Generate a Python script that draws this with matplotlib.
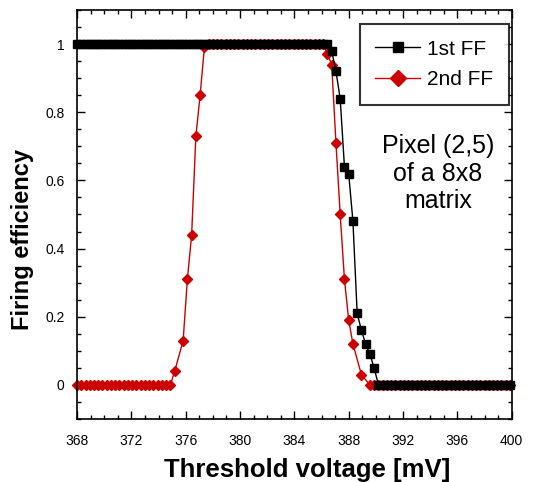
import matplotlib
matplotlib.use('Agg')
import matplotlib.pyplot as plt
from matplotlib.ticker import MultipleLocator, FixedLocator

plt.rcParams['font.family'] = ['Liberation Sans', 'DejaVu Sans']

# threshold voltage scan points [mV]
volt_1st = [
    368.0, 368.3125, 368.625, 368.9375, 369.25, 369.5625, 369.875, 370.1875, 370.5, 370.8125,
    371.125, 371.4375, 371.75, 372.0625, 372.375, 372.6875, 373.0, 373.3125, 373.625, 373.9375,
    374.25, 374.5625, 374.875, 375.1875, 375.5, 375.8125, 376.125, 376.4375, 376.75, 377.0625,
    377.375, 377.6875, 378.0, 378.3125, 378.625, 378.9375, 379.25, 379.5625, 379.875, 380.1875,
    380.5, 380.8125, 381.125, 381.4375, 381.75, 382.0625, 382.375, 382.6875, 383.0, 383.3125,
    383.625, 383.9375, 384.25, 384.5625, 384.875, 385.1875, 385.5, 385.8125, 386.125, 386.4375,
    386.75, 387.0625, 387.375, 387.6875, 388.0, 388.3125, 388.625, 388.9375, 389.25, 389.5625,
    389.875, 390.1875, 390.5, 390.8125, 391.125, 391.4375, 391.75, 392.0625, 392.375, 392.6875,
    393.0, 393.3125, 393.625, 393.9375, 394.25, 394.5625, 394.875, 395.1875, 395.5, 395.8125,
    396.125, 396.4375, 396.75, 397.0625, 397.375, 397.6875, 398.0, 398.3125, 398.625, 398.9375,
    399.25, 399.5625, 399.875,
]
eff_1st = ([1.0] * 60
           + [0.98, 0.92, 0.84, 0.64, 0.62, 0.48, 0.21, 0.16, 0.12, 0.09, 0.05]
           + [0.0] * 32)

volt_2nd = [
    368.0, 368.3125, 368.625, 368.9375, 369.25, 369.5625, 369.875, 370.1875, 370.5, 370.8125,
    371.125, 371.4375, 371.75, 372.0625, 372.375, 372.6875, 373.0, 373.3125, 373.625, 373.9375,
    374.25, 374.5625, 374.875, 375.1875, 375.8125, 376.125, 376.4375, 376.75, 377.0625,
    377.375, 377.6875, 378.0, 378.3125, 378.625, 378.9375, 379.25, 379.5625, 379.875, 380.1875,
    380.5, 380.8125, 381.125, 381.4375, 381.75, 382.0625, 382.375, 382.6875, 383.0, 383.3125,
    383.625, 383.9375, 384.25, 384.5625, 384.875, 385.1875, 385.5, 385.8125, 386.125, 386.4375,
    386.75, 387.0625, 387.375, 387.6875, 388.0, 388.3125, 388.9375, 389.5625,
    389.875, 390.1875, 390.5, 390.8125, 391.125, 391.4375, 391.75, 392.0625, 392.375, 392.6875,
    393.0, 393.3125, 393.625, 393.9375, 394.25, 394.5625, 394.875, 395.1875, 395.5, 395.8125,
    396.125, 396.4375, 396.75, 397.0625, 397.375, 397.6875, 398.0, 398.3125, 398.625, 398.9375,
    399.25, 399.5625, 399.875,
]
eff_2nd = ([0.0] * 23
           + [0.04, 0.13, 0.31, 0.44, 0.73, 0.85, 0.99]
           + [1.0] * 28
           + [0.97, 0.94, 0.71, 0.50, 0.31, 0.19, 0.12, 0.03]
           + [0.0] * 34)

x_ticks = [368, 372, 376, 380, 384, 388, 392, 396, 400]
y_ticks = [0, 0.2, 0.4, 0.6, 0.8, 1.0]
y_tick_labels = ['0', '0.2', '0.4', '0.6', '0.8', '1']

fig = plt.figure(figsize=(5.33, 4.82), dpi=100)
ax = fig.add_axes([0.1445, 0.1307, 0.8155, 0.8486])

red = '#cc0000'
ax.plot(volt_2nd, eff_2nd, color=red, lw=1, marker='D', ms=5,
        mec=red, mfc=red, label='2nd FF', zorder=2, clip_on=False)
ax.plot(volt_1st, eff_1st, color='black', lw=1, marker='s', ms=5.5,
        mec='black', mfc='black', label='1st FF', zorder=3, clip_on=False)

ax.set_xlim(368, 400)
ax.set_ylim(-0.1, 1.1)
ax.xaxis.set_major_locator(FixedLocator(x_ticks))
ax.xaxis.set_minor_locator(MultipleLocator(1))
ax.set_yticks(y_ticks)
ax.set_yticklabels(y_tick_labels)
ax.yaxis.set_minor_locator(MultipleLocator(0.05))

ax.tick_params(which='both', direction='in', top=True, right=True, width=1)
ax.tick_params(which='major', length=6, labelsize=10)
ax.tick_params(axis='x', which='major', pad=11)
ax.tick_params(axis='y', which='major', pad=9)
ax.tick_params(which='minor', length=3)
for s in ax.spines.values():
    s.set_linewidth(1.2)

ax.set_xlabel('Threshold voltage [mV]', fontsize=18.5, fontweight='bold')
ax.xaxis.set_label_coords(0.53, -0.095)
ax.set_ylabel('Firing efficiency', fontsize=17, fontweight='bold')
ax.yaxis.set_label_coords(-0.1, 0.44)

handles, labels = ax.get_legend_handles_labels()
leg = ax.legend(handles[::-1], labels[::-1], loc='upper right',
                bbox_to_anchor=(0.994, 0.966), borderaxespad=0, fontsize=15,
                frameon=True, fancybox=False, edgecolor='black',
                handlelength=2.15, handletextpad=0.35,
                borderpad=0.75, labelspacing=0.55)
leg.get_frame().set_linewidth(1.5)
leg.legend_handles[0].set_markersize(6.5)
leg.legend_handles[1].set_markersize(8)

ax.text(0.83, 0.60, 'Pixel (2,5)\nof a 8x8\nmatrix', transform=ax.transAxes,
        ha='center', va='center', fontsize=18, linespacing=1.2)

fig.savefig('out.png', dpi=100)
